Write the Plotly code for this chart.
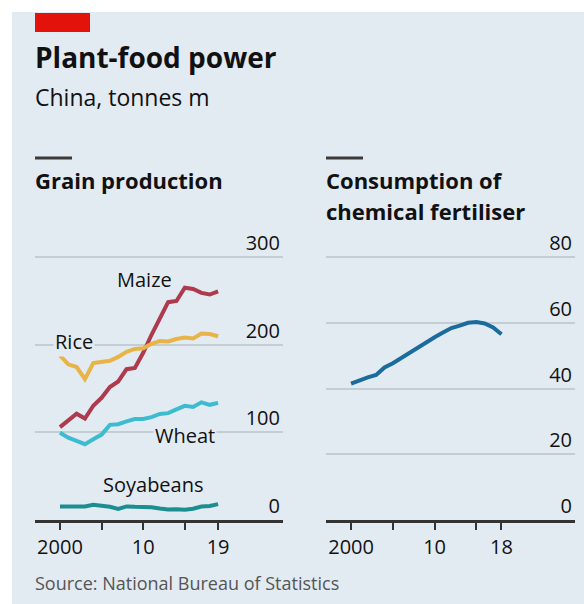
import plotly.graph_objects as go

years_grain = list(range(2000, 2020))
rice = [187.9, 177.6, 174.5, 160.7, 179.1, 180.6, 181.7, 186.0, 191.9, 195.1,
        195.8, 201.0, 204.2, 203.6, 206.5, 208.2, 207.1, 212.7, 212.1, 209.6]
maize = [106.0, 114.1, 121.3, 115.8, 130.3, 139.4, 151.6, 158.0, 172.0, 173.5,
         190.8, 211.3, 229.6, 248.5, 249.8, 265.0, 263.6, 259.1, 257.2, 260.8]
wheat = [99.6, 93.9, 90.3, 86.5, 92.0, 97.4, 108.5, 109.3, 112.5, 115.1,
         115.2, 117.4, 121.0, 121.9, 126.2, 130.2, 128.9, 134.2, 131.4, 133.6]
soy = [15.4, 15.4, 16.5, 15.4, 17.4, 16.3, 15.1, 12.7, 15.5, 15.0,
       15.1, 14.5, 13.0, 12.0, 12.2, 11.8, 12.9, 15.3, 16.0, 18.1]

years_fert = list(range(2000, 2019))
fertiliser = [41.5, 42.5, 43.4, 44.1, 46.4, 47.7, 49.3, 51.1, 52.4, 54.0,
              55.6, 57.0, 58.4, 59.1, 60.0, 60.2, 59.8, 58.6, 56.5]

grain_ticks = [0, 100, 200, 300]
fert_ticks = [0, 20, 40, 60, 80]
grain_xticks = [2000, 2005, 2010, 2015, 2019]
grain_xlabels = ["2000", "", "10", "", "19"]
fert_xticks = [2000, 2005, 2010, 2015, 2018]
fert_xlabels = ["2000", "", "10", "", "18"]

W, H = 584, 604
BG = "#e2eaf2"
FONT = "Open Sans"

def px(x):
    return x / W

def py(y):
    return 1 - y / H

fig = go.Figure()
fig.add_trace(go.Scatter(x=years_grain, y=maize, mode="lines", line=dict(color="#ad3a4d", width=4), xaxis="x", yaxis="y"))
fig.add_trace(go.Scatter(x=years_grain, y=rice, mode="lines", line=dict(color="#e9b447", width=4), xaxis="x", yaxis="y"))
fig.add_trace(go.Scatter(x=years_grain, y=wheat, mode="lines", line=dict(color="#3dbcd0", width=4), xaxis="x", yaxis="y"))
fig.add_trace(go.Scatter(x=years_grain, y=soy, mode="lines", line=dict(color="#1b8e91", width=4), xaxis="x", yaxis="y"))
fig.add_trace(go.Scatter(x=years_fert, y=fertiliser, mode="lines", line=dict(color="#1c6b9d", width=4), xaxis="x2", yaxis="y2"))

xr = [1997, 2026.8]
common_x = dict(range=xr, showgrid=False, zeroline=False, showline=True, linecolor="#333333", linewidth=3,
                ticks="outside", ticklen=7, tickwidth=2, tickcolor="#333333",
                tickfont=dict(family=FONT, size=20, color="#111111"), fixedrange=True)
common_y = dict(showgrid=True, gridcolor="#c4ccd4", gridwidth=1.5, zeroline=False, showline=False,
                side="right", ticklabelposition="inside top", ticks="",
                tickfont=dict(family=FONT, size=20, color="#111111"), fixedrange=True)

# pixel geometry: value 0 at y=520, top gridline at y=257
y0_px, ytop_grid = 520, 257
plot_top = 200
g_scale = (y0_px - ytop_grid) / 300.0
f_scale = (y0_px - ytop_grid) / 80.0
g_max = (y0_px - plot_top) / g_scale
f_max = (y0_px - plot_top) / f_scale

ydom = [py(y0_px), py(plot_top)]
fig.update_layout(
    width=W, height=H, margin=dict(l=0, r=0, t=0, b=0),
    paper_bgcolor="white", plot_bgcolor="rgba(0,0,0,0)", showlegend=False,
    xaxis=dict(domain=[px(35), px(283)], anchor="y", tickvals=grain_xticks, ticktext=grain_xlabels, **common_x),
    yaxis=dict(domain=ydom, anchor="x", range=[0, g_max], tickvals=grain_ticks, **common_y),
    xaxis2=dict(domain=[px(326), px(575)], anchor="y2", tickvals=fert_xticks, ticktext=fert_xlabels, **common_x),
    yaxis2=dict(domain=ydom, anchor="x2", range=[0, f_max], tickvals=fert_ticks, **common_y),
)

shapes = [
    dict(type="rect", xref="paper", yref="paper", x0=px(12), x1=1, y0=0, y1=py(12), fillcolor=BG, line=dict(width=0), layer="below"),
    dict(type="rect", xref="paper", yref="paper", x0=px(35), x1=px(90), y0=py(32), y1=py(13), fillcolor="#e3120b", line=dict(width=0)),
    dict(type="line", xref="paper", yref="paper", x0=px(35), x1=px(72), y0=py(158), y1=py(158), line=dict(color="#3b3b3b", width=3)),
    dict(type="line", xref="paper", yref="paper", x0=px(326), x1=px(363), y0=py(158), y1=py(158), line=dict(color="#3b3b3b", width=3)),
]
fig.update_layout(shapes=shapes)

def txt(x, y, s, size, color="#111111", bold=False, xanchor="left"):
    fig.add_annotation(xref="paper", yref="paper", x=px(x), y=py(y), text=("<b>%s</b>" % s) if bold else s,
                       showarrow=False, xanchor=xanchor, yanchor="middle",
                       font=dict(family=FONT, size=size, color=color))

txt(33, 57, "Plant-food power", 28, bold=True)
txt(33, 97, "China, tonnes m", 23)
txt(33, 180, "Grain production", 22, bold=True)
txt(324, 180, "Consumption of", 22, bold=True)
txt(324, 211, "chemical fertiliser", 22, bold=True)
txt(33, 583, "Source: National Bureau of Statistics", 18, color="#555555")

labels = [("Maize", 2010.1, 274), ("Rice", 2001.7, 204), ("Wheat", 2015.0, 96), ("Soyabeans", 2011.2, 41)]
for name, lx, ly in labels:
    fig.add_annotation(xref="x", yref="y", x=lx, y=ly, text=name, showarrow=False,
                       xanchor="center", yanchor="middle", bgcolor=BG, borderpad=1,
                       font=dict(family=FONT, size=20, color="#111111"))

fig.write_html("out.html", config={"displayModeBar": False},
               post_script="document.body.style.margin='0';document.body.style.overflow='hidden';")
